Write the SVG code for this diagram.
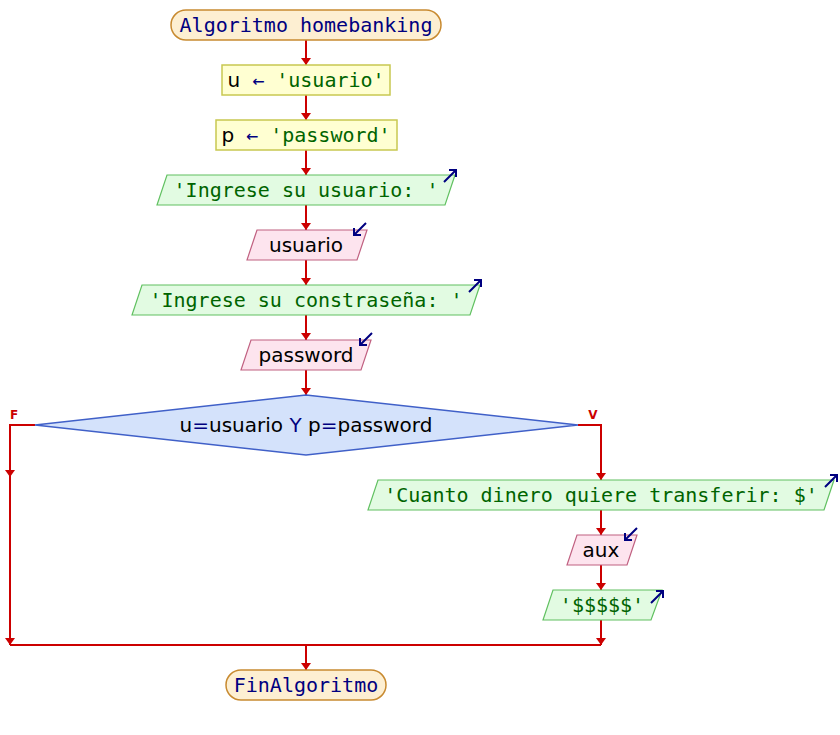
<svg xmlns="http://www.w3.org/2000/svg" width="840" height="735" viewBox="0 0 840 735">
<defs>
<marker id="ah" markerUnits="userSpaceOnUse" viewBox="0 0 7 10" refX="7" refY="5" markerWidth="7" markerHeight="10" orient="auto">
<path d="M0,0 L7,5 L0,10 z" fill="#cc0000"/>
</marker>
<style>
.bg{fill:#ffffff}
.term{fill:#fdefd2;stroke:#c88a30;stroke-width:1.5}
.asg{fill:#ffffd2;stroke:#c8c850;stroke-width:1.5}
.out{fill:#e2fbe2;stroke:#60c060;stroke-width:1.2}
.inp{fill:#fde4ee;stroke:#c06080;stroke-width:1.2}
.dec{fill:#d4e2fb;stroke:#4060c8;stroke-width:1.5}
.con{fill:none;stroke:#cc0000;stroke-width:2}
.icon{fill:none;stroke:#000080;stroke-width:2}
.mono{font-family:"DejaVu Sans Mono",monospace;font-size:20px}
.sans{font-family:"DejaVu Sans",sans-serif;font-size:20px}
.kw{fill:#000080}
.str{fill:#006400}
.var{fill:#000000}
.lbl{font-family:"DejaVu Sans",sans-serif;font-size:12px;font-weight:bold;fill:#cc0000}
</style>
</defs>
<rect class="bg" x="0" y="0" width="840" height="735"/>

<g id="connectors">
<path class="con" d="M306,40 V65" marker-end="url(#ah)"/>
<path class="con" d="M306,95 V120" marker-end="url(#ah)"/>
<path class="con" d="M306,150 V175" marker-end="url(#ah)"/>
<path class="con" d="M306,205 V230" marker-end="url(#ah)"/>
<path class="con" d="M306,260 V285" marker-end="url(#ah)"/>
<path class="con" d="M306,315 V340" marker-end="url(#ah)"/>
<path class="con" d="M306,370 V395" marker-end="url(#ah)"/>
<path class="con" d="M35,425 H10 V477" marker-end="url(#ah)"/>
<path class="con" d="M10,477 V645" marker-end="url(#ah)"/>
<path class="con" d="M578,425 H601 V480" marker-end="url(#ah)"/>
<path class="con" d="M601,510 V535" marker-end="url(#ah)"/>
<path class="con" d="M601,565 V590" marker-end="url(#ah)"/>
<path class="con" d="M601,620 V645" marker-end="url(#ah)"/>
<path class="con" d="M10,645 H601"/>
<path class="con" d="M306,645 V670" marker-end="url(#ah)"/>
<text class="lbl" x="14" y="419" text-anchor="middle">F</text>
<text class="lbl" x="593" y="419" text-anchor="middle">V</text>
</g>

<g id="start">
<rect class="term" x="171" y="10" width="270" height="30" rx="15" ry="15"/>
<text class="mono kw" x="306" y="32" text-anchor="middle">Algoritmo homebanking</text>
</g>

<g id="assign-u">
<rect class="asg" x="222" y="65" width="168" height="30"/>
<text class="mono" x="306" y="87" text-anchor="middle"><tspan class="var" font-family="DejaVu Sans,sans-serif">u</tspan><tspan class="kw"> ← </tspan><tspan class="str">'usuario'</tspan></text>
</g>

<g id="assign-p">
<rect class="asg" x="216" y="120" width="181" height="30"/>
<text class="mono" x="306" y="142" text-anchor="middle"><tspan class="var" font-family="DejaVu Sans,sans-serif">p</tspan><tspan class="kw"> ← </tspan><tspan class="str">'password'</tspan></text>
</g>

<g id="out-usuario">
<polygon class="out" points="157,205 167,175 455,175 445,205"/>
<text class="mono str" x="306" y="197" text-anchor="middle">'Ingrese su usuario: '</text>
<path class="icon" d="M444,182 L456,170 M449,170 H456 V177"/>
</g>

<g id="in-usuario">
<polygon class="inp" points="247,260 257,230 367,230 357,260"/>
<text class="sans var" x="306" y="252" text-anchor="middle">usuario</text>
<path class="icon" d="M366,223 L354,235 M354,228 V235 H361"/>
</g>

<g id="out-pass">
<polygon class="out" points="132,315 142,285 480,285 470,315"/>
<text class="mono str" x="306" y="307" text-anchor="middle">'Ingrese su constraseña: '</text>
<path class="icon" d="M469,292 L481,280 M474,280 H481 V287"/>
</g>

<g id="in-pass">
<polygon class="inp" points="241,370 251,340 371,340 361,370"/>
<text class="sans var" x="306" y="362" text-anchor="middle">password</text>
<path class="icon" d="M372,333 L360,345 M360,338 V345 H367"/>
</g>

<g id="decision">
<polygon class="dec" points="35,425 306,395 578,425 306,455"/>
<text class="sans" x="306" y="432" text-anchor="middle"><tspan class="var">u</tspan><tspan class="kw">=</tspan><tspan class="var">usuario </tspan><tspan class="kw">Y</tspan><tspan class="var"> p</tspan><tspan class="kw">=</tspan><tspan class="var">password</tspan></text>
</g>

<g id="out-cuanto">
<polygon class="out" points="368,510 378,480 834,480 824,510"/>
<text class="mono str" x="601" y="502" text-anchor="middle">'Cuanto dinero quiere transferir: $'</text>
<path class="icon" d="M825,487 L837,475 M830,475 H837 V482"/>
</g>

<g id="in-aux">
<polygon class="inp" points="567,565 577,535 637,535 627,565"/>
<text class="sans var" x="601" y="557" text-anchor="middle">aux</text>
<path class="icon" d="M637,528 L625,540 M625,533 V540 H632"/>
</g>

<g id="out-dollars">
<polygon class="out" points="543,620 553,590 662,590 651,620"/>
<text class="mono str" x="602" y="612" text-anchor="middle">'$$$$$'</text>
<path class="icon" d="M651,603 L663,591 M656,591 H663 V598"/>
</g>

<g id="end">
<rect class="term" x="226" y="670" width="160" height="30" rx="15" ry="15"/>
<text class="mono kw" x="306" y="692" text-anchor="middle">FinAlgoritmo</text>
</g>
</svg>
